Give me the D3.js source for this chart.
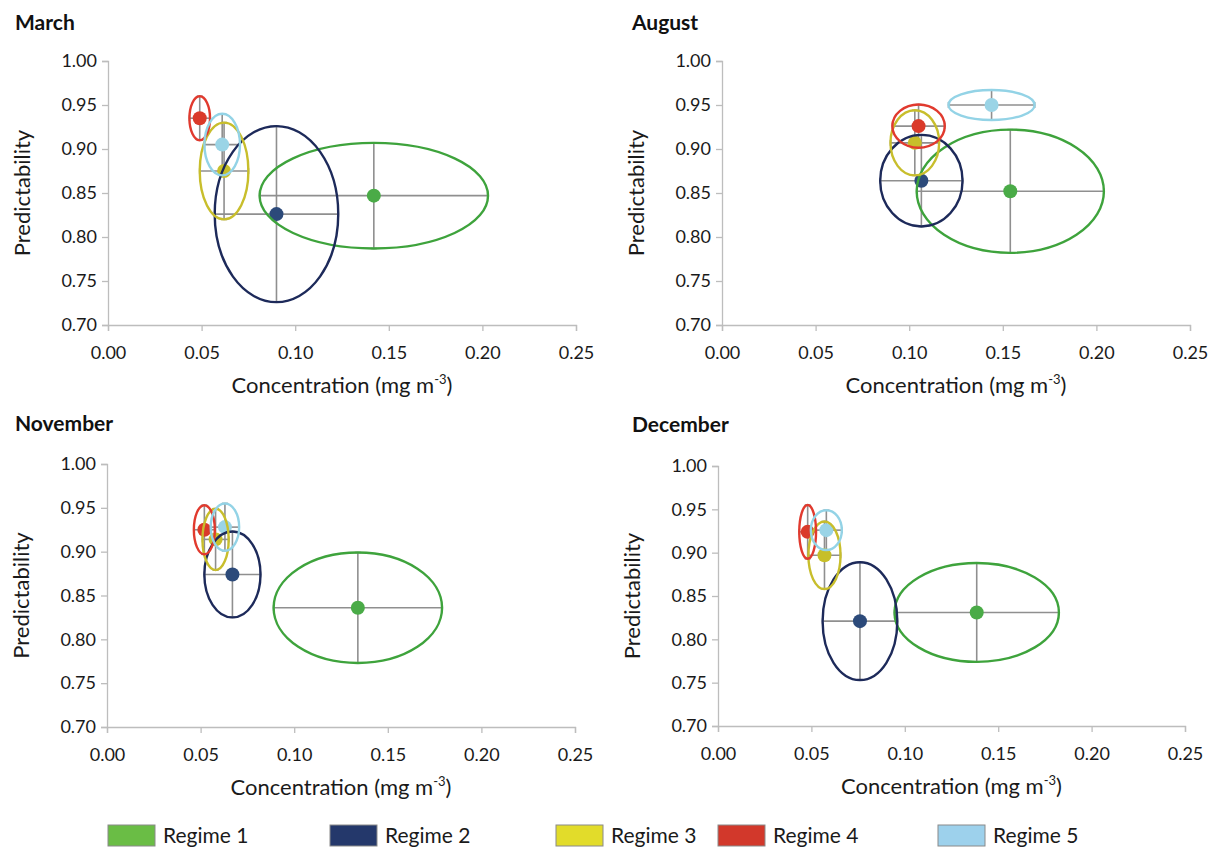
<!DOCTYPE html>
<html>
<head>
<meta charset="utf-8">
<script src="https://cdn.jsdelivr.net/npm/d3@7"></script>
<style>
  body { margin: 0; background: #fff; }
  svg { font-family: Lato, "Open Sans", sans-serif; }
</style>
</head>
<body>
<div id="chart"></div>
<script>
// regimes and colours
const regimes = ["Regime 1", "Regime 2", "Regime 3", "Regime 4", "Regime 5"]
const swatchColors = ["#6abd45", "#24386b", "#e2dc2a", "#d2382b", "#9dd1ec"]
const ringColors = ["#3ea33c", "#1d2a5a", "#c8be2c", "#e13a2e", "#93d3e6"]
const dotColors = ["#4aab47", "#2c4a7a", "#c7bf2a", "#da3a2a", "#9ad4e6"]

const months = ["March", "August", "November", "December"]
const xTicks = [0, 0.05, 0.10, 0.15, 0.20, 0.25]
const yTicks = [0.70, 0.75, 0.80, 0.85, 0.90, 0.95, 1.00]

// mean concentration / predictability and their spread, per regime
const concMarch = [0.142, 0.090, 0.062, 0.049, 0.061]
const predMarch = [0.847, 0.826, 0.875, 0.935, 0.905]
const concSdMarch = [0.061, 0.033, 0.013, 0.0055, 0.0095]
const predSdMarch = [0.060, 0.100, 0.055, 0.025, 0.035]

const concAugust = [0.154, 0.1065, 0.103, 0.105, 0.144]
const predAugust = [0.852, 0.864, 0.907, 0.926, 0.950]
const concSdAugust = [0.050, 0.022, 0.013, 0.014, 0.023]
const predSdAugust = [0.070, 0.052, 0.037, 0.0245, 0.017]

const concNovember = [0.134, 0.067, 0.058, 0.052, 0.063]
const predNovember = [0.836, 0.874, 0.914, 0.925, 0.928]
const concSdNovember = [0.045, 0.015, 0.007, 0.0056, 0.0076]
const predSdNovember = [0.063, 0.049, 0.035, 0.028, 0.027]

const concDecember = [0.1385, 0.076, 0.057, 0.048, 0.058]
const predDecember = [0.831, 0.821, 0.897, 0.924, 0.926]
const concSdDecember = [0.044, 0.020, 0.0086, 0.0045, 0.0083]
const predSdDecember = [0.057, 0.068, 0.039, 0.031, 0.023]

const monthData = {
    March: [concMarch, predMarch, concSdMarch, predSdMarch],
    August: [concAugust, predAugust, concSdAugust, predSdAugust],
    November: [concNovember, predNovember, concSdNovember, predSdNovember],
    December: [concDecember, predDecember, concSdDecember, predSdDecember]
}

// panel frames (plot area) and title spots
const frames = [
    { left: 108, right: 576, top: 61, bottom: 325, tx: 15, ty: 30 },
    { left: 722, right: 1190, top: 61, bottom: 325, tx: 632, ty: 30 },
    { left: 107, right: 575, top: 464, bottom: 727, tx: 15, ty: 431 },
    { left: 718, right: 1185, top: 466, bottom: 726, tx: 632, ty: 432 }
]

const svg = d3.select("#chart").append("svg")
    .attr("width", 1213)
    .attr("height", 852)

months.forEach((month, i) => {
    const f = frames[i]
    const [cx, cy, sx, sy] = monthData[month]

    const x = d3.scaleLinear().domain([0, 0.25]).range([f.left, f.right])
    const y = d3.scaleLinear().domain([0.70, 1.00]).range([f.bottom, f.top])

    const g = svg.append("g")

    g.append("text")
        .attr("x", f.tx)
        .attr("y", f.ty)
        .attr("font-size", 21)
        .attr("font-weight", "bold")
        .attr("fill", "#111")
        .text(month)

    const xAxis = g.append("g")
        .attr("transform", "translate(0," + f.bottom + ")")
        .call(d3.axisBottom(x).tickValues(xTicks).tickFormat(d3.format(".2f")).tickSize(6).tickPadding(15))
    const yAxis = g.append("g")
        .attr("transform", "translate(" + f.left + ",0)")
        .call(d3.axisLeft(y).tickValues(yTicks).tickFormat(d3.format(".2f")).tickSize(6).tickPadding(5))

    for (const ax of [xAxis, yAxis]) {
        ax.select(".domain").attr("stroke", "#bdbdbd").attr("stroke-width", 1.3)
        ax.selectAll(".tick line").attr("stroke", "#bdbdbd").attr("stroke-width", 1.3)
        ax.selectAll(".tick text").attr("font-size", 18).attr("fill", "#1a1a1a")
            .attr("font-family", "Lato, sans-serif")
    }

    g.append("text")
        .attr("transform", "translate(" + (f.left - 78) + "," + ((f.top + f.bottom) / 2) + ") rotate(-90)")
        .attr("text-anchor", "middle")
        .attr("font-size", 22)
        .attr("fill", "#1a1a1a")
        .text("Predictability")

    let xl = g.append("text")
        .attr("x", (f.left + f.right) / 2)
        .attr("y", f.bottom + 68)
        .attr("text-anchor", "middle")
        .attr("font-size", 22)
        .attr("fill", "#1a1a1a")
    xl.append("tspan").text("Concentration (mg m")
    xl.append("tspan").attr("font-size", 13).attr("dy", -9).text("-3")
    xl.append("tspan").attr("dy", 9).text(")")

    const idx = d3.range(regimes.length)

    // error bars
    const bars = g.append("g").attr("stroke", "#8f8f8f").attr("stroke-width", 1.6)
    idx.forEach(k => {
        const px = x(cx[k]), py = y(cy[k])
        const x0 = x(cx[k] - sx[k]), x1 = x(cx[k] + sx[k])
        const y0 = y(cy[k] - sy[k]), y1 = y(cy[k] + sy[k])
        bars.append("line").attr("x1", x0).attr("x2", x1).attr("y1", py).attr("y2", py)
        bars.append("line").attr("x1", px).attr("x2", px).attr("y1", y0).attr("y2", y1)
        bars.append("line").attr("x1", x0).attr("x2", x0).attr("y1", py - 3).attr("y2", py + 3)
        bars.append("line").attr("x1", x1).attr("x2", x1).attr("y1", py - 3).attr("y2", py + 3)
        bars.append("line").attr("x1", px - 3).attr("x2", px + 3).attr("y1", y0).attr("y2", y0)
        bars.append("line").attr("x1", px - 3).attr("x2", px + 3).attr("y1", y1).attr("y2", y1)
    })

    g.append("g").selectAll("circle")
        .data(idx)
        .join("circle")
        .attr("cx", k => x(cx[k]))
        .attr("cy", k => y(cy[k]))
        .attr("r", 7)
        .attr("fill", k => dotColors[k])

    g.append("g").selectAll("ellipse")
        .data(idx)
        .join("ellipse")
        .attr("cx", k => x(cx[k]))
        .attr("cy", k => y(cy[k]))
        .attr("rx", k => x(cx[k] + sx[k]) - x(cx[k]))
        .attr("ry", k => y(cy[k]) - y(cy[k] + sy[k]))
        .attr("fill", "none")
        .attr("stroke", k => ringColors[k])
        .attr("stroke-width", 2.4)
})

// legend
const legendX = [108, 330, 556, 718, 938]
const legend = svg.append("g")
regimes.forEach((r, k) => {
    legend.append("rect")
        .attr("x", legendX[k])
        .attr("y", 825)
        .attr("width", 47)
        .attr("height", 21)
        .attr("fill", swatchColors[k])
        .attr("stroke", "#8a8a8a")
        .attr("stroke-width", 1)
    legend.append("text")
        .attr("x", legendX[k] + 55)
        .attr("y", 843)
        .attr("font-size", 21)
        .attr("fill", "#1a1a1a")
        .text(r)
})
</script>
</body>
</html>
